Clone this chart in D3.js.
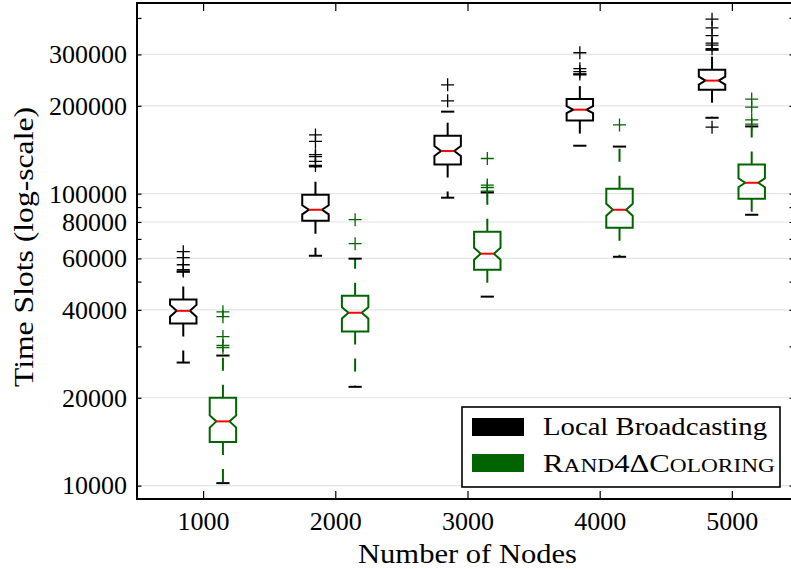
<!DOCTYPE html>
<html>
<head>
<meta charset="utf-8">
<title>Boxplot</title>
<style>
  body, html { margin: 0; padding: 0; background: #fff; }
  svg { display: block; font-family: "Liberation Serif", "Times New Roman", serif; }
</style>
</head>
<body>
<svg id="svg" width="791" height="569"></svg>
<script src="https://d3js.org/d3.v7.min.js"></script>
<script>
const nodes = [1000, 2000, 3000, 4000, 5000]
const yLabels = [10000, 20000, 40000, 60000, 80000, 100000, 200000, 300000]
const yTicks = [10000, 20000, 30000, 40000, 50000, 60000, 70000, 80000, 90000, 100000, 200000, 300000, 400000]

// Local Broadcasting
const lbLow = [26400, 61300, 96900, 146000, 182000]
const lbQ1 = [35900, 80800, 126000, 178000, 227000]
const lbNotchLo = [37900, 85000, 134600, 188700, 236400]
const lbMedian = [39700, 88100, 140000, 194000, 244000]
const lbNotchHi = [41600, 91300, 145600, 199400, 251800]
const lbQ3 = [43400, 99200, 158000, 211000, 266000]
const lbHigh = [54000, 124000, 191000, 256000, 311000]
const lbFliers = [
  [54300, 54900, 57100, 60400, 63300],
  [125000, 129000, 134000, 136000, 151000, 159000],
  [208000, 236000],
  [257000, 262000, 268000, 304000],
  [169000, 314000, 323000, 328000, 348000, 370000, 396000]
]

// Rand4DeltaColoring
const rcLow = [10200, 21800, 44400, 60800, 84700]
const rcQ1 = [14100, 33700, 54900, 76500, 96100]
const rcNotchLo = [15800, 37400, 59400, 84000, 105200]
const rcMedian = [16600, 39100, 62300, 88100, 109000]
const rcNotchHi = [17400, 40800, 65300, 92400, 112900]
const rcQ3 = [20000, 44700, 74100, 104000, 126000]
const rcHigh = [27900, 59900, 101000, 145000, 170000]
const rcFliers = [
  [29700, 30200, 32400, 37900, 39400],
  [67400, 81500],
  [102000, 105000, 107000, 132000],
  [172000],
  [173000, 179000, 198000, 211000]
]

const series = [
  { color: '#000000', offset: -150, low: lbLow, q1: lbQ1, nlo: lbNotchLo, med: lbMedian, nhi: lbNotchHi, q3: lbQ3, high: lbHigh, fliers: lbFliers },
  { color: '#006400', offset: 150, low: rcLow, q1: rcQ1, nlo: rcNotchLo, med: rcMedian, nhi: rcNotchHi, q3: rcQ3, high: rcHigh, fliers: rcFliers }
]

const plotLeft = 137, plotRight = 794, plotTop = 3, plotBottom = 499

const x = d3.scaleLinear().domain([500, 5470]).range([plotLeft, plotRight])
const y = d3.scaleLog().domain([9000, 450000]).range([plotBottom, plotTop])
const boxW = x(700) - x(500)

const svg = d3.select('#svg')

// grid
svg.append('g')
  .selectAll('line')
  .data(yLabels)
  .enter()
  .append('line')
  .attr('x1', plotLeft).attr('x2', plotRight)
  .attr('y1', d => y(d)).attr('y2', d => y(d))
  .attr('stroke', '#e3e3e3')
  .attr('stroke-width', 1.2)

const line = d3.line()

series.forEach(s => {
  const g = svg.append('g')
  nodes.forEach((n, i) => {
    const cx = x(n + s.offset)
    const hw = boxW / 2, nw = boxW / 4
    // whiskers, dashed from the box edge outward
    g.append('line')
      .attr('x1', cx).attr('x2', cx)
      .attr('y1', y(s.q3[i])).attr('y2', y(s.high[i]))
      .attr('stroke', s.color).attr('stroke-width', 2)
      .attr('stroke-dasharray', '13,14')
    g.append('line')
      .attr('x1', cx).attr('x2', cx)
      .attr('y1', y(s.q1[i])).attr('y2', y(s.low[i]))
      .attr('stroke', s.color).attr('stroke-width', 2)
      .attr('stroke-dasharray', '13,14')
    // notched box
    const pts = [
      [cx - hw, y(s.q1[i])], [cx - hw, y(s.nlo[i])], [cx - nw, y(s.med[i])],
      [cx - hw, y(s.nhi[i])], [cx - hw, y(s.q3[i])], [cx + hw, y(s.q3[i])],
      [cx + hw, y(s.nhi[i])], [cx + nw, y(s.med[i])], [cx + hw, y(s.nlo[i])],
      [cx + hw, y(s.q1[i])]
    ]
    g.append('path')
      .attr('d', line(pts) + 'Z')
      .attr('fill', 'none')
      .attr('stroke', s.color)
      .attr('stroke-width', 2)
    // median
    g.append('line')
      .attr('x1', cx - nw).attr('x2', cx + nw)
      .attr('y1', y(s.med[i])).attr('y2', y(s.med[i]))
      .attr('stroke', '#ff0000').attr('stroke-width', 2)
    // caps (black)
    ;[s.low[i], s.high[i]].forEach(v => {
      g.append('line')
        .attr('x1', cx - nw).attr('x2', cx + nw)
        .attr('y1', y(v)).attr('y2', y(v))
        .attr('stroke', '#000').attr('stroke-width', 2)
    })
    // fliers
    g.selectAll(null)
      .data(s.fliers[i])
      .enter()
      .append('path')
      .attr('transform', d => `translate(${cx},${y(d)})`)
      .attr('d', 'M-6.5,0H6.5M0,-6.5V6.5')
      .attr('stroke', s.color)
      .attr('stroke-width', 1.3)
      .attr('fill', 'none')
  })
})

// axes
const fmt = d => yLabels.includes(d) ? String(d) : ''

const gl = svg.append('g')
  .attr('transform', `translate(${plotLeft},0)`)
  .call(d3.axisLeft(y).tickValues(yTicks).tickFormat(fmt).tickSize(-4.5).tickPadding(10))
const gr = svg.append('g')
  .attr('transform', `translate(${plotRight},0)`)
  .call(d3.axisRight(y).tickValues(yTicks).tickFormat('').tickSize(-4.5))
const gb = svg.append('g')
  .attr('transform', `translate(0,${plotBottom})`)
  .call(d3.axisBottom(x).tickValues(nodes).tickFormat(d3.format('d')).tickSize(-8).tickPadding(12.5))
const gt = svg.append('g')
  .attr('transform', `translate(0,${plotTop})`)
  .call(d3.axisTop(x).tickValues(nodes).tickFormat('').tickSize(-8))

;[gl, gr, gb, gt].forEach(a => {
  a.select('.domain').remove()
  a.selectAll('.tick line').attr('stroke', '#000').attr('stroke-width', 1.2)
  a.selectAll('text')
    .attr('fill', '#000')
    .style('font-family', '"Liberation Serif", serif')
    .style('font-size', '26px')
})

// frame
svg.append('rect')
  .attr('x', plotLeft).attr('y', plotTop)
  .attr('width', plotRight - plotLeft).attr('height', plotBottom - plotTop)
  .attr('fill', 'none')
  .attr('stroke', '#000')
  .attr('stroke-width', 2)

// axis labels
svg.append('text')
  .attr('x', (plotLeft + plotRight) / 2 + 2)
  .attr('y', 563)
  .attr('text-anchor', 'middle')
  .attr('font-size', 28)
  .attr('textLength', 219)
  .attr('lengthAdjust', 'spacingAndGlyphs')
  .text('Number of Nodes')

svg.append('text')
  .attr('transform', 'translate(33,247) rotate(-90)')
  .attr('text-anchor', 'middle')
  .attr('font-size', 28)
  .attr('textLength', 280)
  .attr('lengthAdjust', 'spacingAndGlyphs')
  .text('Time Slots (log-scale)')

// legend
const lg = svg.append('g')
lg.append('rect')
  .attr('x', 462).attr('y', 407)
  .attr('width', 318).attr('height', 80)
  .attr('fill', '#fff')
  .attr('stroke', '#000')
  .attr('stroke-width', 1.6)

const legendRows = [0, 1]
lg.selectAll('.sw')
  .data(legendRows)
  .enter()
  .append('rect')
  .attr('x', 472)
  .attr('y', d => 418 + d * 36)
  .attr('width', 52)
  .attr('height', 18)
  .attr('fill', d => series[d].color)

lg.append('text')
  .attr('x', 543).attr('y', 435)
  .attr('font-size', 25)
  .attr('textLength', 224)
  .attr('lengthAdjust', 'spacingAndGlyphs')
  .text('Local Broadcasting')

const t2 = lg.append('text')
  .attr('x', 543).attr('y', 472)
  .attr('font-size', 25)
  .attr('textLength', 232)
  .attr('lengthAdjust', 'spacingAndGlyphs')
;[['R', 25], ['AND', 19], ['4\u0394C', 25], ['OLORING', 19]].forEach(([t, fs]) => {
  t2.append('tspan').attr('font-size', fs).text(t)
})
</script>
</body>
</html>
